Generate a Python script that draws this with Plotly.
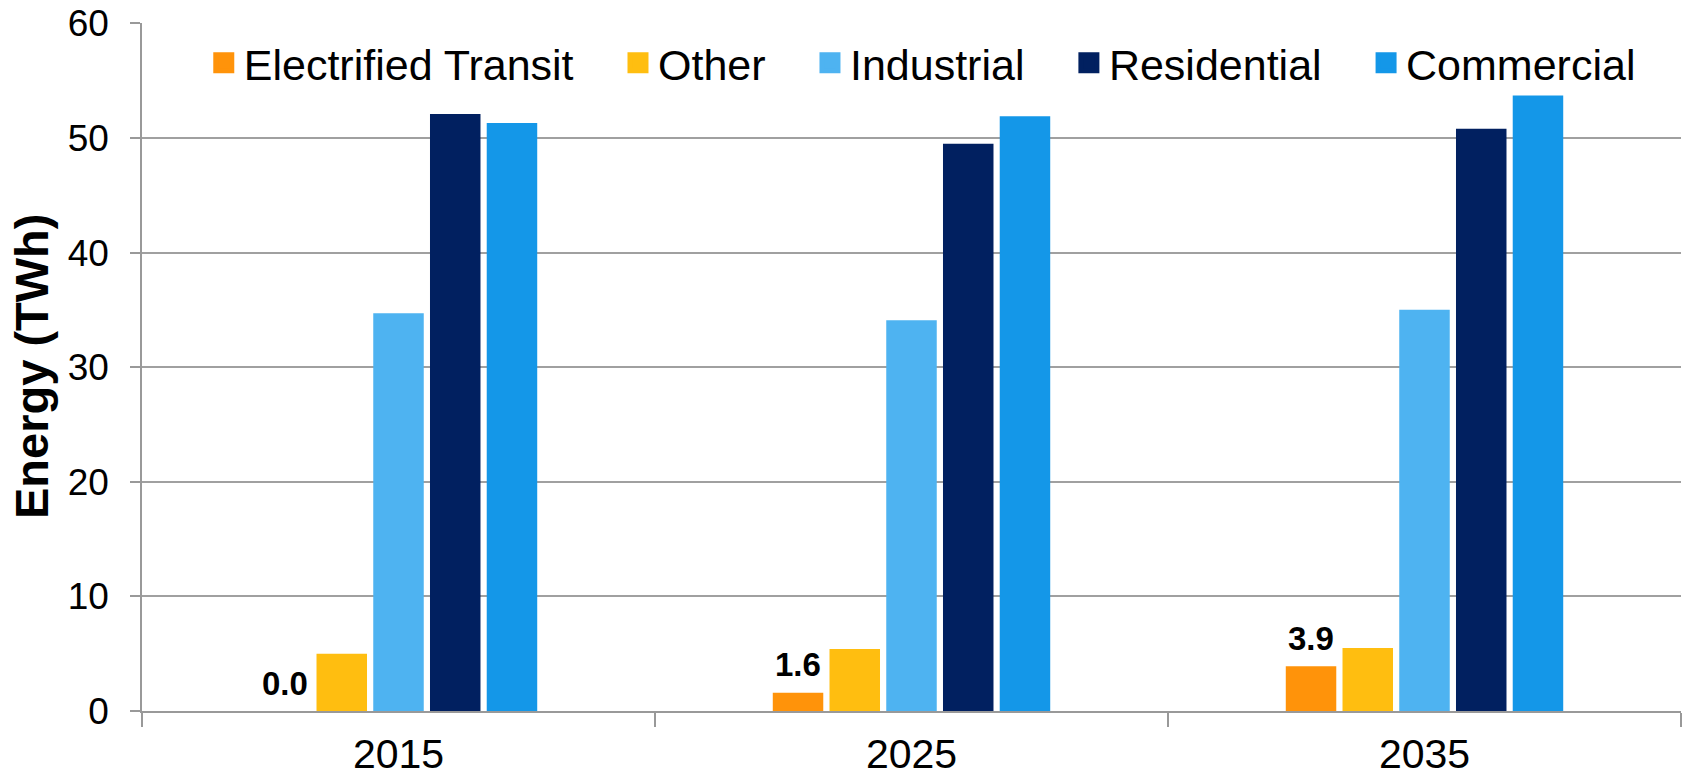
import plotly.graph_objects as go

years = ["2015", "2025", "2035"]
series_names = ["Electrified Transit", "Other", "Industrial", "Residential", "Commercial"]
electrified_transit = [0.0, 1.6, 3.9]
other = [5.0, 5.4, 5.5]
industrial = [34.7, 34.1, 35.0]
residential = [52.1, 49.5, 50.8]
commercial = [51.3, 51.9, 53.7]
y_ticks = [0, 10, 20, 30, 40, 50, 60]
y_title = "Energy (TWh)"

series_values = [electrified_transit, other, industrial, residential, commercial]
colors = ["#FF930A", "#FFBE10", "#4EB3F1", "#012060", "#1497E8"]

FONT = "Liberation Sans, Arial, sans-serif"
W, H = 1687, 781
ML, MR, MT, MB = 142, 6, 23, 70
BARGAP = 0.447
n_series = len(series_names)
PAD = "\u00a0\u00a0\u00a0\u200a"

fig = go.Figure()
for name, vals, col in zip(series_names, series_values, colors):
    fig.add_trace(go.Bar(
        x=years, y=vals, name=name, marker=dict(color=col, line=dict(width=0)),
        showlegend=False, hoverinfo="x+y+name",
    ))
# legend-only entries with larger square swatches (drawn on a hidden axis pair)
for i, (name, col) in enumerate(zip(series_names, colors)):
    label = name if i == len(series_names) - 1 else name + PAD
    fig.add_trace(go.Scatter(
        x=[0], y=[None], mode="markers", name=label, xaxis="x2", yaxis="y2",
        marker=dict(symbol="square", size=16, color=col, line=dict(color=col, width=5)),
        showlegend=True, hoverinfo="skip",
    ))

# data labels for Electrified Transit
plot_w = W - ML - MR
cat_w = plot_w / len(years)
slot = cat_w * (1 - BARGAP) / n_series
offset_px = (0 - (n_series - 1) / 2) * slot
for i, v in enumerate(electrified_transit):
    fig.add_annotation(
        x=i, y=v, xref="x", yref="y", text=f"<b>{v:.1f}</b>", showarrow=False,
        xshift=offset_px, yshift=28, yanchor="middle",
        font=dict(family=FONT, size=33, color="#000000"),
    )

# y-axis title as a rotated annotation for exact placement
fig.add_annotation(
    x=-(ML - 31) / plot_w, y=0.5, xref="paper", yref="paper",
    text=f"<b>{y_title}</b>", textangle=-90, showarrow=False,
    xanchor="center", yanchor="middle",
    font=dict(family=FONT, size=47, color="#000000"),
)

fig.update_layout(
    width=W, height=H,
    margin=dict(l=ML, r=MR, t=MT, b=MB),
    paper_bgcolor="white", plot_bgcolor="white",
    barmode="group", bargap=BARGAP, bargroupgap=0.11,
    font=dict(family=FONT, color="#000000"),
    showlegend=True,
    legend=dict(
        orientation="h", x=0.507, xanchor="center", y=0.942, yanchor="middle",
        font=dict(family=FONT, size=43, color="#000000"),
        bgcolor="rgba(0,0,0,0)", itemclick=False,
    ),
    xaxis2=dict(overlaying="x", visible=False, range=[-1, 1]),
    yaxis2=dict(overlaying="y", visible=False, range=[-1, 1]),
)
fig.layout.xaxis.update(
    type="category", categoryorder="array", categoryarray=years,
    range=[-0.5, len(years) - 0.5], automargin=False,
    tickson="boundaries", ticks="outside", ticklen=14, tickwidth=1.5,
    tickcolor="#999999", showline=True, linecolor="#999999", linewidth=1.5,
    showgrid=False, tickfont=dict(family=FONT, size=41, color="#000000"),
    ticklabelstandoff=6, ticklabeloverflow="allow",
)
fig.layout.yaxis.update(
    range=[0, 60.03], tickvals=y_ticks, ticks="outside", ticklen=10, tickwidth=1.5,
    tickcolor="#999999", showline=True, linecolor="#999999", linewidth=1.5,
    showgrid=True, gridcolor="#A0A0A0", gridwidth=1.5, zeroline=False, automargin=False,
    tickfont=dict(family=FONT, size=37, color="#000000"),
    ticklabelstandoff=14, ticklabeloverflow="allow",
)

# remove the browser's default 8px page margin so the figure fills the window exactly
fig.write_html(
    "out.html",
    config={"displayModeBar": False},
    post_script="document.body.style.margin='0';document.body.style.overflow='hidden';",
)
